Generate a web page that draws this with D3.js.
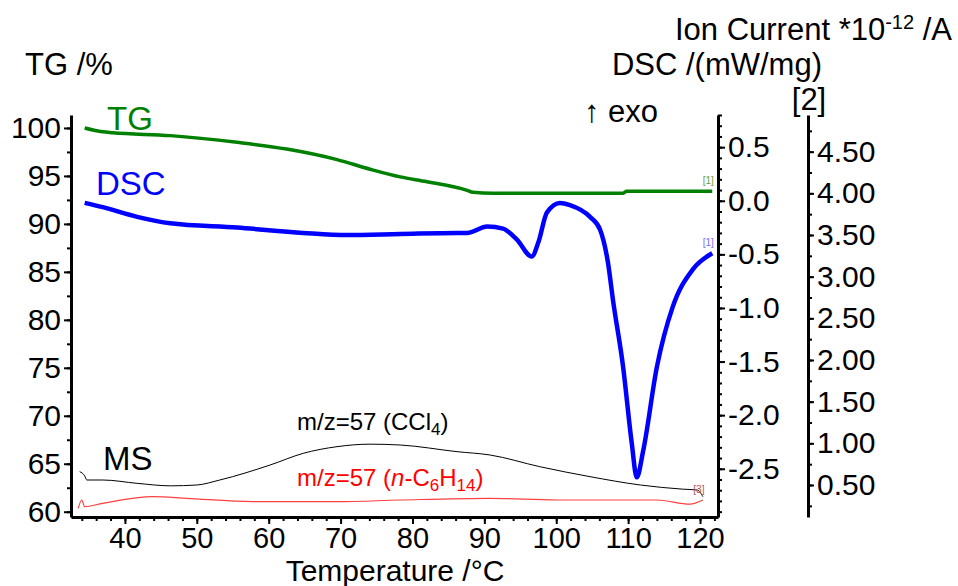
<!DOCTYPE html>
<html>
<head>
<meta charset="utf-8">
<script src="https://cdn.jsdelivr.net/npm/d3@7"></script>
<style>
body { margin: 0; background: #fff; }
svg text { font-family: "Liberation Sans", Arial, sans-serif; }
</style>
</head>
<body>
<div id="viz"></div>
<script>
// TG curve (temperature in °C, mass in %)
var tgTemp = [34.4, 36.9, 38.3, 46.3, 55.6, 62.5, 69.5, 74.1, 78.3, 82.0, 87.6, 88.4, 91.2, 109.3, 109.8, 121.7];
var tgMass = [100.0, 99.6, 99.5, 99.2, 98.5, 97.8, 96.7, 95.7, 94.9, 94.4, 93.5, 93.3, 93.2, 93.2, 93.4, 93.4];

// DSC curve (mW/mg)
var dscTemp = [34.4, 36.9, 41.7, 46.3, 55.6, 64.8, 70.9, 78.3, 86.2, 87.6, 90.4, 92.6, 94.5, 96.6, 97.5, 98.7, 100.5, 101.9, 104.7, 106.1, 107.2, 107.9, 109.3, 110.5, 111.2, 112.1, 114.0, 116.2, 119.0, 121.7];
var dscVal = [-0.02, -0.06, -0.15, -0.21, -0.25, -0.30, -0.32, -0.31, -0.30, -0.30, -0.24, -0.26, -0.36, -0.52, -0.39, -0.11, -0.02, -0.04, -0.15, -0.27, -0.58, -0.93, -1.55, -2.26, -2.58, -2.33, -1.55, -0.99, -0.64, -0.49];

// MS ion current m/z=57, CCl4 run (*10^-12 A)
var ccl4Temp = [33.7, 34.4, 34.7, 36.9, 41.7, 46.3, 50.0, 53.2, 60.2, 64.8, 69.5, 74.1, 78.3, 86.2, 90.8, 97.7, 104.7, 111.7, 117.6, 119.6, 120.4];
var ccl4Ion = [0.66, 0.61, 0.56, 0.56, 0.52, 0.49, 0.50, 0.56, 0.74, 0.88, 0.96, 0.99, 0.98, 0.90, 0.86, 0.72, 0.60, 0.50, 0.45, 0.44, 0.36];

// MS ion current m/z=57, n-hexane run
var hexTemp = [33.5, 34.0, 34.4, 36.9, 43.9, 48.6, 57.8, 69.5, 78.3, 90.8, 100.1, 114.0, 118.6, 120.4];
var hexIon = [0.22, 0.32, 0.24, 0.28, 0.36, 0.34, 0.30, 0.30, 0.32, 0.34, 0.32, 0.32, 0.27, 0.32];

var xTicks = [40, 50, 60, 70, 80, 90, 100, 110, 120];
var tgTicks = [60, 65, 70, 75, 80, 85, 90, 95, 100];
var dscTicks = [0.5, 0.0, -0.5, -1.0, -1.5, -2.0, -2.5];
var ionTicks = [0.5, 1.0, 1.5, 2.0, 2.5, 3.0, 3.5, 4.0, 4.5];

var width = 958, height = 586;
var svg = d3.select("#viz").append("svg")
    .attr("width", width)
    .attr("height", height);

var x = d3.scaleLinear().domain([32.5, 122.5]).range([71, 718]);
var yTG = d3.scaleLinear().domain([59.45, 101.35]).range([517, 115]);
var yDSC = d3.scaleLinear().domain([-2.95, 0.80]).range([517, 115]);
var yIon = d3.scaleLinear().domain([0.116, 4.94]).range([517, 115]);

function zip(a, b) { return a.map(function(v, i) { return [v, b[i]]; }); }
function range(a, b, s) { var r = []; for (var v = a; v <= b + 1e-9; v += s) r.push(+v.toFixed(3)); return r; }

// axes: minor ticks first, then major with labels
function styleAxis(g, size) {
    g.select(".domain").attr("stroke-width", 3);
    g.selectAll(".tick line").attr("stroke-width", 2);
    g.selectAll("text").attr("font-size", size).attr("fill", "#000")
        .style("font-family", "'Liberation Sans', Arial, sans-serif");
}

var gx = svg.append("g").attr("transform", "translate(0,517)");
gx.call(d3.axisBottom(x).tickValues(range(34, 122, 2)).tickSize(4).tickSizeOuter(0).tickFormat(""));
gx.append("g").call(d3.axisBottom(x).tickValues(xTicks).tickSize(7).tickSizeOuter(0).tickPadding(3).tickFormat(d3.format("d")))
    .select(".domain").remove();
styleAxis(gx, 29);

var gl = svg.append("g").attr("transform", "translate(71,0)");
gl.call(d3.axisLeft(yTG).tickValues(range(60, 100, 2.5)).tickSize(4).tickSizeOuter(0).tickFormat(""));
gl.append("g").call(d3.axisLeft(yTG).tickValues(tgTicks).tickSize(7).tickSizeOuter(0).tickPadding(3).tickFormat(d3.format("d")))
    .select(".domain").remove();
styleAxis(gl, 30);

var gd = svg.append("g").attr("transform", "translate(718,0)");
gd.call(d3.axisRight(yDSC).tickValues(range(-2.9, 0.8, 0.1)).tickSize(4).tickSizeOuter(0).tickFormat(""));
gd.append("g").call(d3.axisRight(yDSC).tickValues(dscTicks).tickSize(7).tickSizeOuter(0).tickPadding(3)
        .tickFormat(function(d) { return d.toFixed(1); }))
    .select(".domain").remove();
styleAxis(gd, 30);

var gi = svg.append("g").attr("transform", "translate(808,0)");
gi.call(d3.axisRight(yIon).tickValues(range(0.25, 4.75, 0.25)).tickSize(4).tickSizeOuter(0).tickFormat(""));
gi.append("g").call(d3.axisRight(yIon).tickValues(ionTicks).tickSize(6).tickSizeOuter(0).tickPadding(3)
        .tickFormat(function(d) { return d.toFixed(2); }))
    .select(".domain").remove();
styleAxis(gi, 30);

// curves
function drawLine(data, ys, col, w) {
    svg.append("path")
        .datum(data)
        .attr("fill", "none")
        .attr("stroke", col)
        .attr("stroke-width", w)
        .attr("stroke-linejoin", "round")
        .attr("d", d3.line().x(function(d) { return x(d[0]); }).y(function(d) { return ys(d[1]); }).curve(d3.curveMonotoneX));
}
drawLine(zip(hexTemp, hexIon), yIon, "#ff4040", 1.2);
drawLine(zip(ccl4Temp, ccl4Ion), yIon, "#000", 1);
drawLine(zip(tgTemp, tgMass), yTG, "#008000", 3.5);
drawLine(zip(dscTemp, dscVal), yDSC, "#0000ff", 4.5);

// small curve end markers
function endMark(t, v, ys, txt, col) {
    svg.append("text").attr("x", x(t) - 4).attr("y", ys(v) - 7)
        .attr("text-anchor", "middle").attr("font-size", 10).attr("fill", col).text(txt);
}
endMark(tgTemp[tgTemp.length - 1], tgMass[tgMass.length - 1], yTG, "[1]", "#6b9e3a");
endMark(dscTemp[dscTemp.length - 1], dscVal[dscVal.length - 1], yDSC, "[1]", "#7a6cff");
endMark(hexTemp[hexTemp.length - 1], hexIon[hexIon.length - 1], yIon, "[3]", "#c0504d");

// titles and labels
function label(t, px, py, size, col, anchor) {
    return svg.append("text").attr("x", px).attr("y", py).attr("font-size", size)
        .attr("fill", col).attr("text-anchor", anchor || "start").text(t);
}
label("TG /%", 25, 75, 31, "#000");
label("DSC /(mW/mg)", 822, 75, 31, "#000", "end");
var ion = label("Ion Current *10", 952, 40, 31, "#000", "end");
ion.append("tspan").attr("font-size", 20).attr("dy", -11).text("-12");
ion.append("tspan").attr("dy", 11).text(" /A");
label("\u2191 exo", 584, 122, 31, "#000");
label("[2]", 809, 110, 31, "#000", "middle");
label("Temperature /\u00B0C", 395, 581, 30, "#000", "middle");

label("TG", 107, 130, 33, "#008000");
label("DSC", 96, 195, 33, "#0000ff");
label("MS", 103, 470, 33, "#000");

var m1 = label("m/z=57 (CCl", 297, 430, 24, "#000");
m1.append("tspan").attr("font-size", 17).attr("dy", 5).text("4");
m1.append("tspan").attr("dy", -5).text(")");

var m2 = label("m/z=57 (", 297, 486, 24, "#ff0000");
m2.append("tspan").attr("font-style", "italic").text("n");
m2.append("tspan").text("-C");
m2.append("tspan").attr("font-size", 17).attr("dy", 5).text("6");
m2.append("tspan").attr("dy", -5).text("H");
m2.append("tspan").attr("font-size", 17).attr("dy", 5).text("14");
m2.append("tspan").attr("dy", -5).text(")");
</script>
</body>
</html>
